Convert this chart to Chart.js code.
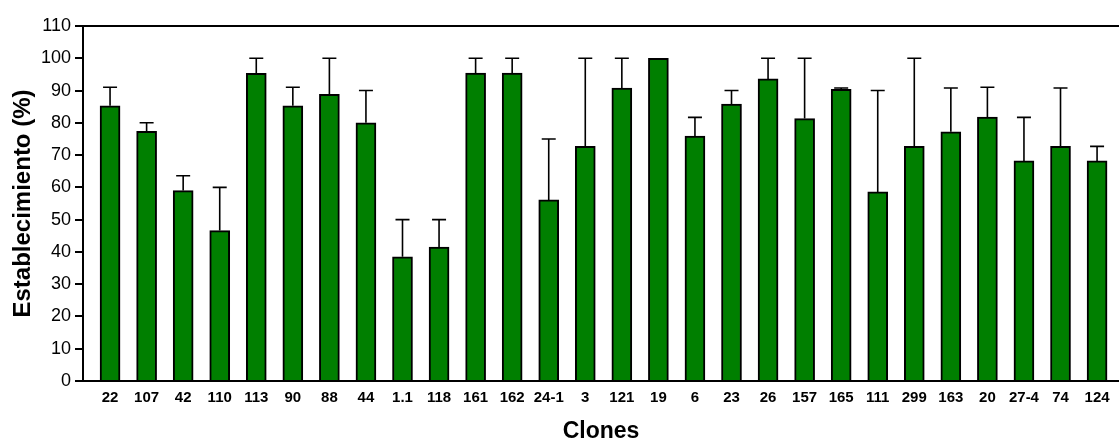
<!DOCTYPE html>
<html>
<head>
<meta charset="utf-8">
<script src="https://cdn.jsdelivr.net/npm/chart.js@4"></script>
<style>
  body { margin: 0; background: #fff; }
</style>
</head>
<body>
<canvas id="myChart" width="1119" height="443"></canvas>
<script>
const clones = ['22', '107', '42', '110', '113', '90', '88', '44', '1.1', '118', '161', '162', '24-1', '3',
  '121', '19', '6', '23', '26', '157', '165', '111', '299', '163', '20', '27-4', '74', '124'];
const establecimiento = [85.3, 77.4, 59.0, 46.6, 95.3, 85.3, 88.8, 80.0, 38.5, 41.5, 95.4, 95.4, 56.1, 72.7,
  90.8, 100, 75.9, 85.8, 93.6, 81.3, 90.4, 58.6, 72.7, 77.2, 81.8, 68.2, 72.7, 68.2];
// upper error (only the top whisker is drawn)
const errorSup = [5.7, 2.6, 4.6, 13.4, 4.7, 5.7, 11.2, 10.0, 11.5, 8.5, 4.6, 4.6, 18.9, 27.3,
  9.2, 0, 5.8, 4.2, 6.4, 18.7, 0.4, 31.4, 27.3, 13.6, 9.2, 13.5, 18.1, 4.5];
const yTicks = [0, 10, 20, 30, 40, 50, 60, 70, 80, 90, 100, 110];

const font = "'Liberation Sans', Arial, sans-serif";

const errorBars = {
  id: 'errorBars',
  afterDatasetsDraw(chart) {
    const ctx = chart.ctx;
    const meta = chart.getDatasetMeta(0);
    const y = chart.scales.y;
    ctx.save();
    ctx.strokeStyle = '#000';
    ctx.lineWidth = 1.6;
    meta.data.forEach((bar, i) => {
      if (!errorSup[i]) return;
      const top = y.getPixelForValue(establecimiento[i] + errorSup[i]);
      ctx.beginPath();
      ctx.moveTo(bar.x, bar.y);
      ctx.lineTo(bar.x, top);
      ctx.moveTo(bar.x - 7, top);
      ctx.lineTo(bar.x + 7, top);
      ctx.stroke();
    });
    ctx.restore();
  }
};

new Chart(document.getElementById('myChart'), {
  type: 'bar',
  data: {
    datasets: [{
      data: establecimiento.map((v, i) => ({x: i, y: v})),
      backgroundColor: '#007f00',
      borderColor: '#000',
      borderWidth: 2,
      barThickness: 20
    }]
  },
  options: {
    responsive: false,
    animation: false,
    layout: {padding: {top: 26, right: 0, left: 0, bottom: 0}},
    plugins: {legend: {display: false}, tooltip: {enabled: false}},
    scales: {
      x: {
        type: 'linear',
        offset: false,
        min: -0.74,
        max: 27.6,
        afterBuildTicks: (scale) => { scale.ticks = clones.map((c, i) => ({value: i})); },
        afterFit: (scale) => { scale.height = 62; },
        grid: {display: false, drawTicks: false},
        border: {display: true, color: '#000', width: 2},
        ticks: {
          autoSkip: false,
          maxRotation: 0,
          padding: 8,
          color: '#000',
          font: {family: font, size: 15, weight: 'bold'},
          callback: (v) => clones[v]
        },
        title: {
          display: true,
          text: 'Clones',
          color: '#000',
          font: {family: font, size: 23, weight: 'bold', lineHeight: 1},
          padding: {top: 0, bottom: 0}
        }
      },
      y: {
        min: 0,
        max: 110,
        afterBuildTicks: (scale) => { scale.ticks = yTicks.map(v => ({value: v})); },
        afterFit: (scale) => { scale.width = 83; },
        grid: {
          color: (c) => c.tick && c.tick.value === 110 ? '#000' : 'rgba(0,0,0,0)',
          lineWidth: 2,
          drawTicks: true,
          tickColor: '#000',
          tickLength: 8,
          tickWidth: 2
        },
        border: {display: true, color: '#000', width: 2},
        ticks: {
          padding: 4,
          color: '#000',
          font: {family: font, size: 18}
        },
        title: {
          display: true,
          text: 'Establecimiento (%)',
          color: '#000',
          font: {family: font, size: 24, weight: 'bold', lineHeight: 1},
          padding: {top: 11, bottom: 0}
        }
      }
    }
  },
  plugins: [errorBars]
});
</script>
</body>
</html>
